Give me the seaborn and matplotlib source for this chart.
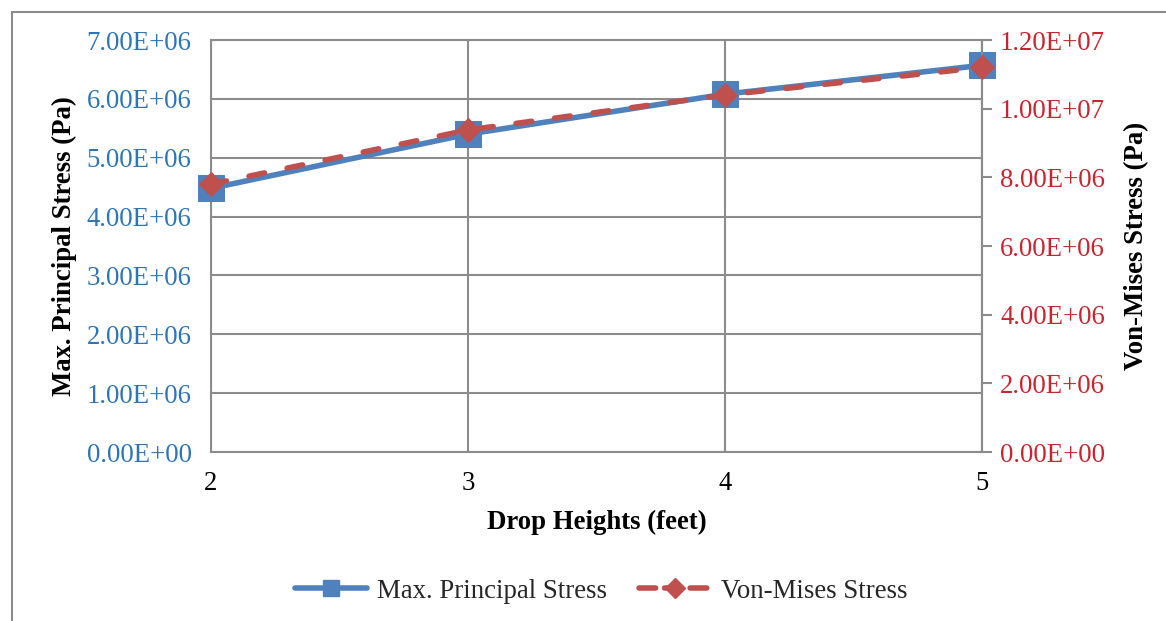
import numpy as np
import pandas as pd
import matplotlib
matplotlib.use('Agg')
import matplotlib.pyplot as plt
import seaborn as sns
from matplotlib.lines import Line2D
from matplotlib.patches import Rectangle

# data
drop_heights = [2, 3, 4, 5]
max_principal = [4.48e6, 5.40e6, 6.08e6, 6.57e6]
von_mises = [7.80e6, 9.38e6, 1.04e7, 1.12e7]

left_ticks = np.arange(0, 7.01e6, 1e6)
right_ticks = np.arange(0, 1.201e7, 2e6)

blue = '#4F81BD'
red = '#C0504D'
blue_txt = '#2E75B6'
red_txt = '#C9252F'
grid_col = '#8C8C8C'
fs = 19.3
lw = 4.0
dash = (2.85, 4.15)

sns.set_theme(style='white')
plt.rcParams['font.family'] = ['Liberation Serif', 'DejaVu Serif']

df = pd.DataFrame({'Drop Heights': drop_heights,
                   'Max. Principal Stress': max_principal,
                   'Von-Mises Stress': von_mises})

fig = plt.figure(figsize=(11.66, 6.21), dpi=100)
ax = fig.add_axes([211 / 1166, 1 - 452 / 621, (982 - 211) / 1166, (452 - 40) / 621])
ax2 = ax.twinx()

# outer chart border (only left and top visible in the reference)
fig.patches.append(Rectangle((12 / 1166, -0.1), 1.2, 1 - 12 / 621 + 0.1,
                             transform=fig.transFigure, fill=False,
                             edgecolor=grid_col, linewidth=1.5))

sns.lineplot(data=df, x='Drop Heights', y='Max. Principal Stress', ax=ax,
             color=blue, linewidth=lw, marker='s', markersize=19,
             markeredgecolor=blue, clip_on=False, zorder=3)
sns.lineplot(data=df, x='Drop Heights', y='Von-Mises Stress', ax=ax2,
             color=red, linewidth=lw, marker='D', markersize=12,
             markeredgecolor=red, dashes=dash, dash_capstyle='round',
             clip_on=False, zorder=4)

ax.set_xlim(2, 5)
ax.set_ylim(0, 7e6)
ax2.set_ylim(0, 1.2e7)
ax.set_xticks(drop_heights)
ax.set_xticklabels([str(v) for v in drop_heights])
ax.set_yticks(left_ticks)
ax.set_yticklabels(['%.2fE+06' % (v / 1e6) if v > 0 else '0.00E+00' for v in left_ticks])
ax2.set_yticks(right_ticks)
labs = []
for v in right_ticks:
    if v == 0:
        labs.append('0.00E+00')
    elif v < 1e7:
        labs.append('%.2fE+06' % (v / 1e6))
    else:
        labs.append('%.2fE+07' % (v / 1e7))
ax2.set_yticklabels(labs)

ax.grid(True, color=grid_col, linewidth=1.5)
ax.set_axisbelow(True)
for sp in ax.spines.values():
    sp.set_color(grid_col)
    sp.set_linewidth(1.5)
for sp in ax2.spines.values():
    sp.set_visible(False)
ax2.spines['right'].set_visible(True)
ax2.spines['right'].set_color(grid_col)
ax2.spines['right'].set_linewidth(1.5)

ax.tick_params(axis='y', labelsize=fs, colors=blue_txt, length=0, pad=14)
ax.tick_params(axis='x', labelsize=fs, colors='black', length=0, pad=14)
ax2.tick_params(axis='y', labelsize=fs, colors=red_txt, length=7, width=1.5,
                direction='out', pad=6)
ax2.tick_params(axis='y', color=grid_col)

ax.set_xlabel('Drop Heights (feet)', fontsize=fs, fontweight='bold', color='black', labelpad=10)
ax.set_ylabel('Max. Principal Stress (Pa)', fontsize=fs, fontweight='bold', color='black', labelpad=7)
ax2.set_ylabel('Von-Mises Stress (Pa)', fontsize=fs, fontweight='bold', color='black',
               rotation=90, labelpad=14)
ax2.yaxis.set_label_position('right')

if ax.get_legend():
    ax.get_legend().remove()
if ax2.get_legend():
    ax2.get_legend().remove()

handles = [Line2D([], [], color=blue, linewidth=lw, marker='s', markersize=11.5,
                  solid_capstyle='round'),
           Line2D([], [], color=red, linewidth=lw, marker='D', markersize=10.5,
                  dashes=(3, 1.6), dash_capstyle='round')]
fig.legend(handles, ['Max. Principal Stress', 'Von-Mises Stress'], loc='center',
           bbox_to_anchor=(601 / 1166, 1 - 591 / 621), ncol=2, frameon=False,
           fontsize=fs, handlelength=2.7, columnspacing=1.2, handletextpad=0.35)

fig.savefig('out.png', dpi=100, facecolor='white')
